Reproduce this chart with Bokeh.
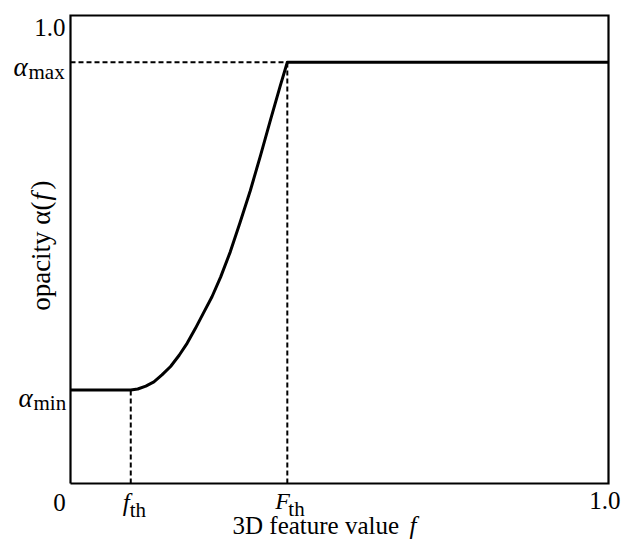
import math
from bokeh.plotting import figure
from bokeh.models import Range1d, Label
from bokeh.embed import file_html
from bokeh.resources import INLINE

# ---- data ----
f_th = 0.112
F_th = 0.403
alpha_min = 0.200
alpha_max = 0.900
curve_f = [0.112, 0.125, 0.140, 0.155, 0.170, 0.186, 0.202, 0.217, 0.232, 0.247,
           0.263, 0.279, 0.297, 0.315, 0.334, 0.353, 0.372, 0.390, 0.403]
curve_a = [0.200, 0.202, 0.208, 0.217, 0.232, 0.250, 0.274, 0.300, 0.331, 0.364,
           0.399, 0.441, 0.495, 0.557, 0.625, 0.700, 0.778, 0.850, 0.900]
x_tick_labels = ["0", "f", "F", "1.0"]
y_tick_labels = ["1.0", "α", "α"]
x_title = "3D feature value "
y_title = "opacity α("

SERIF = "Liberation Serif"

# canvas and where the unit box sits on it (pixels)
W, H = 622, 539
BOX_L, BOX_R, BOX_T, BOX_B = 70, 608, 15, 483
sx = (BOX_R - BOX_L)
sy = (BOX_B - BOX_T)

p = figure(width=W, height=H, output_backend="svg", toolbar_location=None,
           x_range=Range1d(-BOX_L / sx, 1 + (W - BOX_R) / sx),
           y_range=Range1d(-(H - BOX_B) / sy, 1 + BOX_T / sy),
           min_border=0, min_border_left=0, min_border_right=0,
           min_border_top=0, min_border_bottom=0)
p.xaxis.visible = False
p.yaxis.visible = False
p.grid.visible = False
p.outline_line_color = None
p.background_fill_color = "white"
p.border_fill_color = "white"

# frame box
p.line([0, 1, 1, 0, 0], [0, 0, 1, 1, 0], line_color="black", line_width=2.2,
       line_join="miter")

# main curve
xs = [0.0] + curve_f + [1.0]
ys = [alpha_min] + curve_a + [alpha_max]
p.line(xs, ys, line_color="black", line_width=3, line_join="round")

# dashed guides
dash = "5 3"
p.line([0, F_th], [alpha_max, alpha_max], line_color="black", line_width=2, line_dash=dash)
p.line([f_th, f_th], [0, alpha_min], line_color="black", line_width=2, line_dash=dash)
p.line([F_th, F_th], [0, alpha_max], line_color="black", line_width=2, line_dash=dash)


def lab(x, y, text, dx, dy, size, italic=False, align="left", angle=0.0):
    p.add_layout(Label(x=x, y=y, text=text, x_offset=dx, y_offset=-dy,
                       text_font=SERIF, text_font_size=f"{size}px",
                       text_font_style="italic" if italic else "normal",
                       text_align=align, text_baseline="alphabetic",
                       text_color="black", angle=angle))


# y tick labels
lab(0, 1.0, y_tick_labels[0], -5, 12, 25, align="right")
lab(0, alpha_max, y_tick_labels[1], -57, 5, 27, italic=True)
lab(0, alpha_max, "max", -42, 10, 21)
lab(0, alpha_min, y_tick_labels[2], -52, 8, 27, italic=True)
lab(0, alpha_min, "min", -37, 13, 21)

# x tick labels
lab(0, 0, x_tick_labels[0], -11, 19, 25, align="center")
lab(f_th, 0, x_tick_labels[1], -8, 19, 25, italic=True)
lab(f_th, 0, "th", -1, 26, 21)
lab(F_th, 0, x_tick_labels[2], -12, 17, 24, italic=True)
lab(F_th, 0, "th", 1, 25, 21)
lab(1.0, 0, x_tick_labels[3], 12, 17, 25, align="right")

# axis titles
lab(0, 0, x_title, 162, 42, 25)
lab(0, 0, "f", 339, 42, 25, italic=True)
lab(0, 0, y_title, -30, 201 - 483, 27, align="right", angle=math.pi / 2)
lab(0, 0, "f", -30, 200 - 483, 27, italic=True, angle=math.pi / 2)
lab(0, 0, ")", -30, 189 - 483, 27, angle=math.pi / 2)

open("out.html", "w").write(file_html(p, INLINE))
